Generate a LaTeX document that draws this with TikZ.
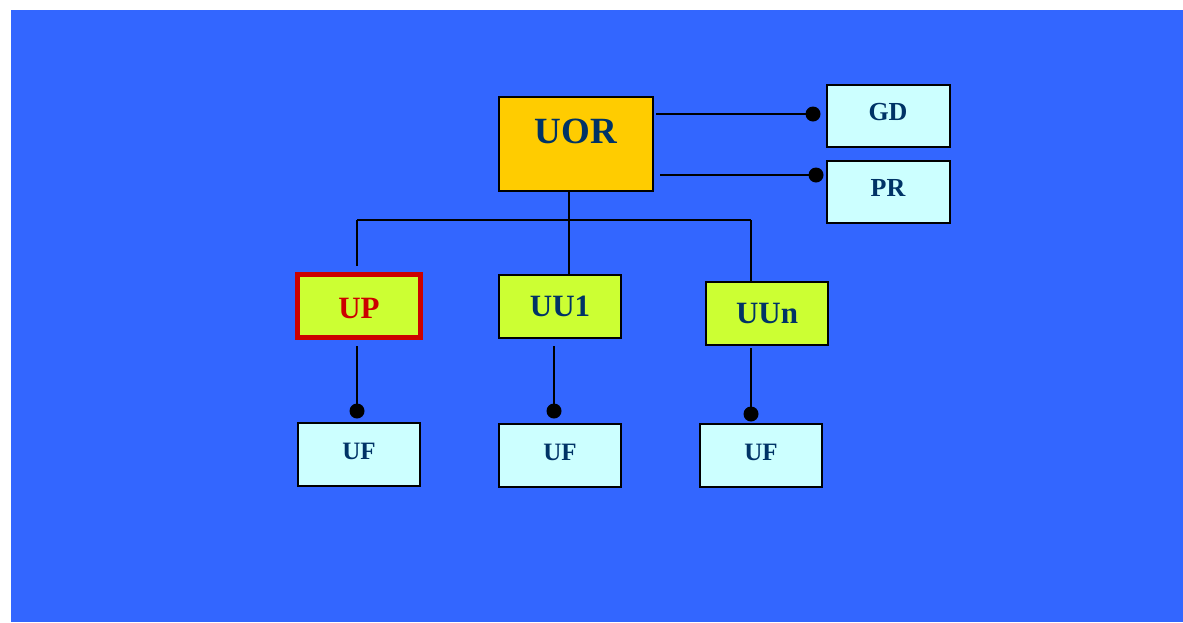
\documentclass[tikz,border=0pt]{standalone}
\usepackage{fontspec}
\setmainfont{Liberation Serif}
\definecolor{bgblue}{HTML}{3366FF}
\definecolor{navy}{HTML}{003366}
\definecolor{gold}{HTML}{FFCC00}
\definecolor{lime}{HTML}{CCFF33}
\definecolor{pale}{HTML}{CCFFFF}
\definecolor{redline}{HTML}{CC0000}
\tikzset{
  box/.style={draw=black, line width=2pt, inner sep=0pt, anchor=north west},
  lbl/.style={text=navy, font=\bfseries},
  wire/.style={draw=black, line width=1.6pt},
  dot/.style={circle, fill=black, inner sep=0pt, minimum size=15pt},
}
\newcommand{\fs}[1]{\fontsize{#1}{#1}\selectfont}
\begin{document}
\begin{tikzpicture}[x=1pt,y=-1pt]
\useasboundingbox (0,0) rectangle (1183,622);
\fill[bgblue] (10.5,9.5) rectangle (1183,622);

% top unit and its two attached units
\node[box, fill=gold, minimum width=154pt, minimum height=94pt] (uor) at (498,96) {};
\node[lbl, font=\bfseries\fs{37}] at (576,131) {UOR};

\node[box, fill=pale, minimum width=123pt, minimum height=62pt] (gd) at (826,84) {};
\node[lbl, font=\bfseries\fs{26}] at (888,112) {GD};
\node[box, fill=pale, minimum width=123pt, minimum height=62pt] (pr) at (826,160) {};
\node[lbl, font=\bfseries\fs{26}] at (888,188) {PR};

% middle row
\node[box, fill=lime, draw=redline, line width=5pt, minimum width=123pt, minimum height=63pt] (up) at (295,272) {};
\node[text=redline, font=\bfseries\fs{31}] at (359,308) {UP};
\node[box, fill=lime, minimum width=122pt, minimum height=63pt] (uu1) at (498,274) {};
\node[lbl, font=\bfseries\fs{31}] at (560,306) {UU1};
\node[box, fill=lime, minimum width=122pt, minimum height=63pt] (uun) at (705,281) {};
\node[lbl, font=\bfseries\fs{31}] at (767,313) {UUn};

% bottom row
\node[box, fill=pale, minimum width=122pt, minimum height=63pt] (uf1) at (297,422) {};
\node[lbl, font=\bfseries\fs{25}] at (359,451) {UF};
\node[box, fill=pale, minimum width=122pt, minimum height=63pt] (uf2) at (498,423) {};
\node[lbl, font=\bfseries\fs{25}] at (560,452) {UF};
\node[box, fill=pale, minimum width=122pt, minimum height=63pt] (uf3) at (699,423) {};
\node[lbl, font=\bfseries\fs{25}] at (761,452) {UF};

% dots ending the attachment lines
\node[dot] (dgd) at (813,114) {};
\node[dot] (dpr) at (816,175) {};
\node[dot] (d1) at (357,411) {};
\node[dot] (d2) at (554,411) {};
\node[dot] (d3) at (751,414) {};

\coordinate (t1) at (656,114);
\coordinate (t2) at (660,175);
\draw[wire] (t1) -- (dgd.center);
\draw[wire] (t2) -- (dpr.center);

% tree from UOR to the middle row
\coordinate (hub) at (569,220);
\coordinate (hl) at (357,220);
\coordinate (hr) at (751,220);
\draw[wire] (569,192) -- (hub);
\draw[wire] (hl) -- (hr);
\draw[wire] (hl) -- (357,266);
\draw[wire] (hub) -- (569,274);
\draw[wire] (hr) -- (751,281);

% middle row down to the bottom units
\draw[wire] (357,346) -- (d1.center);
\draw[wire] (554,346) -- (d2.center);
\draw[wire] (751,348) -- (d3.center);
\end{tikzpicture}
\end{document}
